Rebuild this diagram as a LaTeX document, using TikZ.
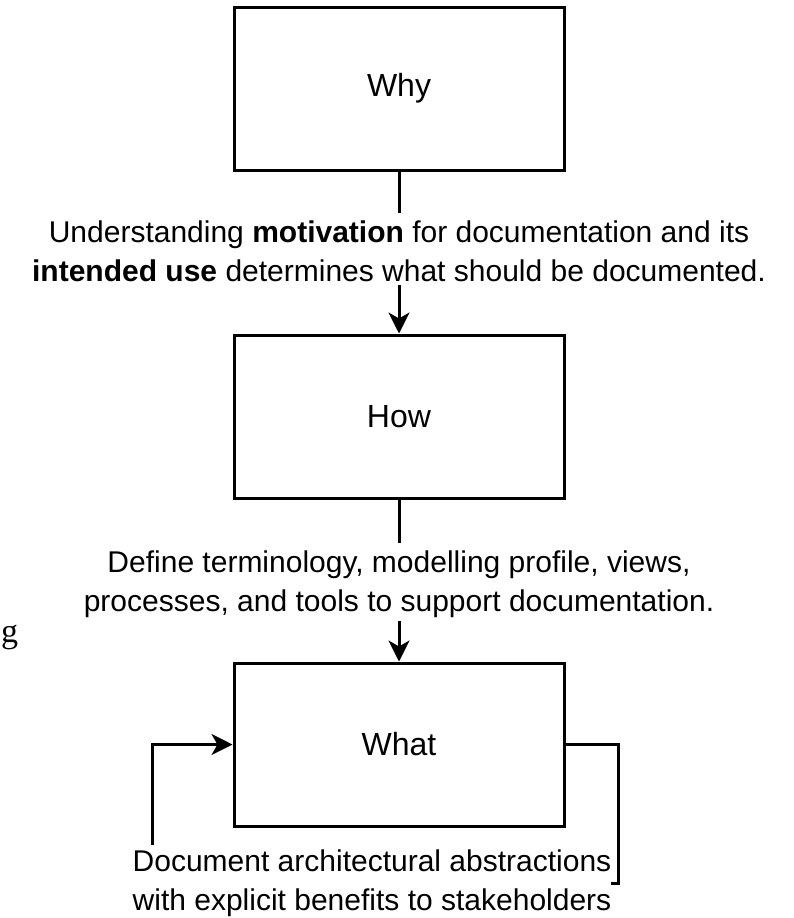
\documentclass[tikz,border=0pt]{standalone}
\usepackage{fontspec}
\setmainfont{Liberation Sans}
\newfontfamily\serifface{Liberation Serif}
\usetikzlibrary{arrows.meta}
\begin{document}
\begin{tikzpicture}[x=1pt,y=-1pt,
  box/.style={draw, line width=3pt, minimum width=330pt, minimum height=163pt,
    inner sep=0pt, font=\fontsize{32}{38}\selectfont},
  lbl/.style={align=center, inner sep=0pt, font=\fontsize{30}{39}\selectfont},
  link/.style={line width=3pt},
  arr/.style={link, -{Stealth[length=21pt,width=21pt,inset=6pt]}}]
\useasboundingbox (0,0) rectangle (793,918);

% the three boxes
\node[box] (why)  at (399,88.5)  {Why};
\node[box] (how)  at (399,416.5) {How};
\node[box] (what) at (399,744.5) {What};

% edge labels
\node[lbl, anchor=north] (m1) at (399,221)
  {Understanding \textbf{motivation} for documentation and its\\
   \textbf{intended use} determines what should be documented.};
\node[lbl, anchor=north] (m2) at (399,551)
  {Define terminology, modelling profile, views,\\
   processes, and tools to support documentation.};
\node[lbl, anchor=north] (m3) at (372,850)
  {Document architectural abstractions\\
   with explicit benefits to stakeholders};

% stray glyph on the left
\node[font=\serifface\fontsize{34}{36}\selectfont, anchor=base west, inner sep=0pt] (g) at (1,642) {g};

% connectors
\draw[link, shorten >=8pt] (why.south) -- (m1.north);
\draw[arr, shorten <=3pt] (m1.south) -- (how.north);
\draw[link, shorten >=8pt] (how.south) -- (m2.north);
\draw[arr, shorten <=3pt] (m2.south) -- (what.north);

% feedback loop around the bottom box
\coordinate (fb) at (152,845);
\draw[arr] (fb) |- (what.west);
\draw[link] (what.east) -| (618,883) -- (m3.east |- 0,883);
\end{tikzpicture}
\end{document}
